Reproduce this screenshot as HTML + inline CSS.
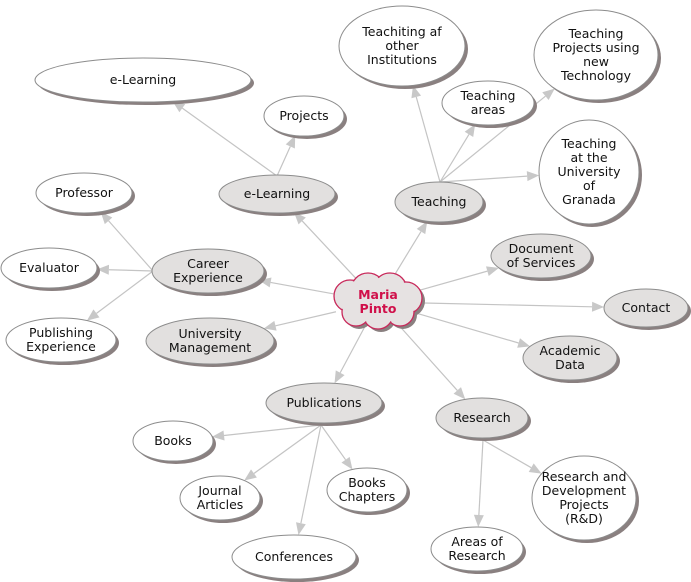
<!DOCTYPE html>
<html><head><meta charset="utf-8"><style>
body{margin:0;background:#fff;width:691px;height:582px;overflow:hidden}
svg{display:block}
text{font-family:"DejaVu Sans","Liberation Sans",sans-serif;font-size:12.5px;fill:#111}
</style></head><body>
<svg id="s" width="691" height="582" xmlns="http://www.w3.org/2000/svg"></svg>
<script>
const N={
C:[378,302,46,24,'c',['Maria','Pinto']],
eL:[277,194,58,19,'g',['e-Learning']],
Te:[439,202,44,20,'g',['Teaching']],
Ca:[208,271,56,22,'g',['Career','Experience']],
Um:[210,341,64,23,'g',['University','Management']],
Pu:[324,403,58,20,'g',['Publications']],
Re:[482,418,46,20,'g',['Research']],
Do:[541,256,50,22,'g',['Document','of Services']],
Co:[646,308,42,19,'g',['Contact']],
Ac:[570,358,47,22,'g',['Academic','Data']],
eB:[143,80,108,22,'w',['e-Learning']],
Pr:[304,116,40,20,'w',['Projects']],
Ti:[402,46,63,40,'w',['Teachiting af','other','Institutions']],
Ta:[488,103,46,22,'w',['Teaching','areas']],
Tp:[596,55,62,45,'w',['Teaching','Projects using','new','Technology']],
Tu:[589,172,50,52,'w',['Teaching','at the','University','of','Granada']],
Pf:[84,193,48,20,'w',['Professor']],
Ev:[49,268,48,20,'w',['Evaluator']],
Pe:[61,340,55,22,'w',['Publishing','Experience']],
Bo:[173,441,40,20,'w',['Books']],
Ja:[220,498,40,22,'w',['Journal','Articles']],
Bc:[367,490,40,22,'w',['Books','Chapters']],
Cf:[294,557,62,22,'w',['Conferences']],
Rd:[584,498,52,42,'w',['Research and','Development','Projects','(R&D)']],
Ar:[477,549,46,22,'w',['Areas of','Research']]
};
const P={eL:[277,176],Te:[440,182],Ca:[153,271],Pu:[321,425],Re:[483,440]};
const E=[['C','eL'],['C','Te'],['C','Ca'],['C','Um'],['C','Pu'],['C','Re'],['C','Do'],['C','Co'],['C','Ac'],
['eL','eB'],['eL','Pr'],['Te','Ti'],['Te','Ta'],['Te','Tp'],['Te','Tu'],['Ca','Pf'],['Ca','Ev'],['Ca','Pe'],
['Pu','Bo'],['Pu','Ja'],['Pu','Bc'],['Pu','Cf'],['Re','Rd'],['Re','Ar']];
let h='';
function edge(n,dx,dy){const t=1/Math.sqrt((dx*dx)/(n[2]*n[2])+(dy*dy)/(n[3]*n[3]));return [n[0]+dx*t,n[1]+dy*t];}
for(const [a,b] of E){const A=N[a],B=N[b];
let s;
if(a!=='C'&&P[a]){s=P[a];}else{s=edge(A,B[0]-A[0],B[1]-A[1]);}
const e=edge(B,s[0]-B[0],s[1]-B[1]);
const L=Math.hypot(e[0]-s[0],e[1]-s[1]),ux=(e[0]-s[0])/L,uy=(e[1]-s[1])/L;
const bx=e[0]-ux*12,by=e[1]-uy*12;
h+=`<line x1="${s[0]}" y1="${s[1]}" x2="${bx}" y2="${by}" stroke="#c4c4c4" stroke-width="1.2"/>`;
h+=`<polygon points="${e[0]},${e[1]} ${bx-uy*5},${by+ux*5} ${bx+uy*5},${by-ux*5}" fill="#c8c8c8"/>`;}
for(const k in N){const n=N[k];const [x,y,rx,ry,t,lines]=n;
if(t==='c'){
const cs=[[-28,-6,16],[-10,-12,17],[12,-12,17],[28,-4,16],[22,10,14],[0,12,15],[-22,10,14]];
let g='';for(const c of cs)g+=`<circle cx="${x+c[0]+3}" cy="${y+c[1]+3}" r="${c[2]}" fill="#8a8080"/>`;
for(const c of cs)g+=`<circle cx="${x+c[0]}" cy="${y+c[1]}" r="${c[2]}" fill="#e6e2e2" stroke="#c8285a" stroke-width="1.3"/>`;
for(const c of cs)g+=`<circle cx="${x+c[0]}" cy="${y+c[1]}" r="${c[2]-1}" fill="#e6e2e2"/>`;
h+=g;
h+=`<text x="${x}" y="${y-3}" text-anchor="middle" style="fill:#d0104a;font-weight:bold">Maria</text><text x="${x}" y="${y+11}" text-anchor="middle" style="fill:#d0104a;font-weight:bold">Pinto</text>`;
continue;}
h+=`<ellipse cx="${x+3}" cy="${y+3}" rx="${rx}" ry="${ry}" fill="#8a8080"/>`;
h+=`<ellipse cx="${x}" cy="${y}" rx="${rx}" ry="${ry}" fill="${t==='g'?'#e2e0df':'#fff'}" stroke="#8c8c8c" stroke-width="1"/>`;
const lh=14,y0=y-(lines.length-1)*lh/2+4;
lines.forEach((l,i)=>{h+=`<text x="${x}" y="${y0+i*lh}" text-anchor="middle">${l.replace('&','&amp;')}</text>`;});}
document.getElementById('s').innerHTML=h;
</script>
</body></html>
